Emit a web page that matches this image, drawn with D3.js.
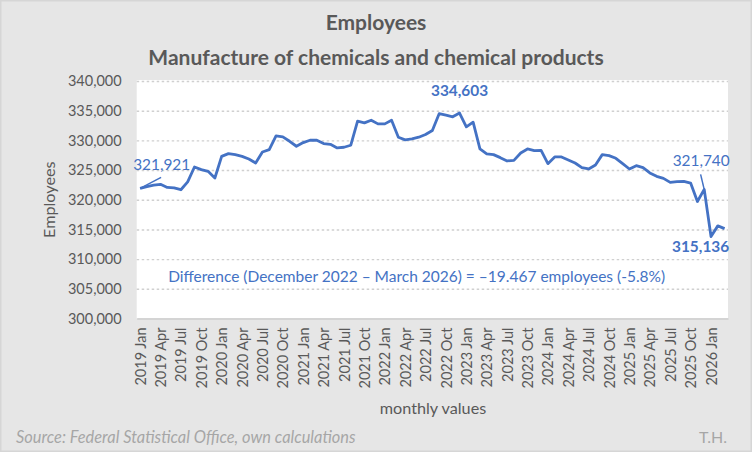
<!DOCTYPE html>
<html>
<head>
<meta charset="utf-8">
<script src="https://cdn.jsdelivr.net/npm/d3@7/dist/d3.min.js"></script>
<style>
  body { margin: 0; background: #fff; }
  text { font-family: Lato, "Noto Sans", sans-serif; }
</style>
</head>
<body>
<script>

// dati: occupati mensili, gennaio 2019 - marzo 2026
const years = [2019, 2020, 2021, 2022, 2023, 2024, 2025, 2026];
const monthNames = ['Jan','Feb','Mar','Apr','May','Jun','Jul','Aug','Sep','Oct','Nov','Dec'];
const employees = [
  321921, 322200, 322450, 322600, 322080, 322000, 321690, 323000, 325520, 325070, 324780, 323660,
  327310, 327770, 327600, 327310, 326870, 326200, 328050, 328450, 330750, 330600, 329850, 329010,
  329630, 330020, 330020, 329460, 329340, 328730, 328840, 329180, 333230, 332950, 333400, 332780,
  332780, 333400, 330530, 330080, 330250, 330530, 330980, 331660, 334500, 334240, 333970, 334603,
  332280, 333060, 328560, 327720, 327600, 327090, 326530, 326640, 327880, 328560, 328280, 328330,
  326080, 327210, 327210, 326700, 326190, 325400, 325180, 325860, 327600, 327430, 326980, 326080,
  325180, 325740, 325400, 324510, 323940, 323600, 322920, 323040, 323090, 322810, 319710, 321740,
  313800, 315600, 315136
];
const yTicks = [300000, 305000, 310000, 315000, 320000, 325000, 330000, 335000, 340000];

// etichette dei mesi, stesso numero dei valori
const months = [];
years.forEach(y => monthNames.forEach(m => months.push(y + ' ' + m)));
months.length = employees.length;

const W = 752, H = 452;
const margin = {top: 81, right: 24, bottom: 133.5, left: 136.7};
const Pwidth = W - margin.left - margin.right;
const Pheight = H - margin.top - margin.bottom;

const blue = '#4472C4';
const grey = '#595959';

const svg = d3.select('body')
    .append('svg')
    .attr('width', W)
    .attr('height', H);

// sfondo del grafico
svg.append('rect')
    .attr('x', 0.75).attr('y', 0.75)
    .attr('width', W - 1.5).attr('height', H - 1.5)
    .attr('fill', '#e6e6e6')
    .attr('stroke', '#d6d6d6')
    .attr('stroke-width', 1.5);

const g = svg.append('g')
    .attr('transform', 'translate(' + margin.left + ',' + margin.top + ')');

g.append('rect')
    .attr('y', -1)
    .attr('width', Pwidth)
    .attr('height', Pheight + 1)
    .attr('fill', 'white');

const x = d3.scalePoint()
    .domain(months)
    .range([0, Pwidth])
    .padding(0.5);

const y = d3.scaleLinear()
    .domain([300000, 340000])
    .range([Pheight, 0]);

// asse y con la griglia tratteggiata
const yAxis = g.append('g')
    .call(d3.axisLeft(y).tickValues(yTicks).tickSize(-Pwidth).tickPadding(15).tickFormat(d3.format(',')));
yAxis.select('.domain').remove();
yAxis.selectAll('line')
    .attr('stroke', '#d0d0d0')
    .attr('stroke-width', 1.4)
    .attr('stroke-dasharray', '2.5,2.5')
    .filter(d => d === 300000).remove();
yAxis.selectAll('text')
    .attr('fill', grey)
    .style('font-size', '14.5px');

// asse x: un'etichetta ogni tre mesi
const xAxis = g.append('g')
    .attr('transform', 'translate(0,' + Pheight + ')')
    .call(d3.axisBottom(x).tickValues(months.filter((d, i) => i % 3 === 0)).tickSize(0).tickSizeOuter(0));
xAxis.select('.domain')
    .attr('stroke', '#d4d4d4')
    .attr('stroke-width', 2.2);
xAxis.selectAll('text')
    .attr('fill', grey)
    .style('font-size', '14.5px')
    .attr('text-anchor', 'end')
    .attr('y', 0)
    .attr('x', -9)
    .attr('dy', '0.35em')
    .attr('transform', 'rotate(-90)');

// linea
const line = d3.line()
    .x((d, i) => x(months[i]))
    .y(d => y(d));

g.append('path')
    .datum(employees)
    .attr('fill', 'none')
    .attr('stroke', blue)
    .attr('stroke-width', 2.8)
    .attr('stroke-linejoin', 'round')
    .attr('d', line);

// etichette dei punti
const fmt = d3.format(',');
const iFirst = 0;
const iPeak = employees.indexOf(d3.max(employees));
const iLast = employees.length - 1;
const iDec25 = months.indexOf('2025 Dec');
const px = i => x(months[i]);
const py = i => y(employees[i]);

function etichetta(i, dx, dy, bold) {
  g.append('text')
      .attr('x', px(i) + dx)
      .attr('y', py(i) + dy)
      .attr('text-anchor', 'middle')
      .attr('fill', blue)
      .attr('font-weight', bold ? 'bold' : 'normal')
      .style('font-size', '15.4px')
      .text(fmt(employees[i]));
}

etichetta(iFirst, 21.6, -18, false);
etichetta(iPeak, 0, -17, true);
etichetta(iDec25, -3, -23, false);
etichetta(iLast, -24, 23, true);

g.append('line')
    .attr('x1', px(iFirst)).attr('y1', py(iFirst))
    .attr('x2', px(iFirst) + 21).attr('y2', py(iFirst) - 11)
    .attr('stroke', blue).attr('stroke-width', 1.5);

g.append('line')
    .attr('x1', px(iDec25) - 3.6).attr('y1', py(iDec25) - 15)
    .attr('x2', px(iDec25)).attr('y2', py(iDec25))
    .attr('stroke', blue).attr('stroke-width', 1.5);

g.append('text')
    .attr('x', 31.5)
    .attr('y', 201)
    .attr('fill', blue)
    .style('font-size', '15.5px')
    .text('Difference (December 2022 \u2013 March 2026) = \u201319.467 employees (-5.8%)');

// titoli
svg.append('text')
    .attr('x', 376).attr('y', 30)
    .attr('text-anchor', 'middle')
    .attr('fill', grey)
    .attr('font-weight', 'bold')
    .style('font-size', '21px')
    .text('Employees');

svg.append('text')
    .attr('x', 376).attr('y', 65)
    .attr('text-anchor', 'middle')
    .attr('fill', grey)
    .attr('font-weight', 'bold')
    .style('font-size', '21px')
    .text('Manufacture of chemicals and chemical products');

svg.append('text')
    .attr('transform', 'translate(55,' + (margin.top + Pheight / 2) + ') rotate(-90)')
    .attr('text-anchor', 'middle')
    .attr('fill', grey)
    .style('font-size', '16.2px')
    .text('Employees');

svg.append('text')
    .attr('x', 433).attr('y', 414)
    .attr('text-anchor', 'middle')
    .attr('fill', grey)
    .style('font-size', '16.2px')
    .text('monthly values');

svg.append('text')
    .attr('x', 16).attr('y', 443)
    .attr('fill', '#a6a6a6')
    .attr('font-style', 'italic')
    .style('font-size', '16.4px')
    .text('Source: Federal Statistical Office, own calculations');

svg.append('text')
    .attr('x', 727).attr('y', 443)
    .attr('text-anchor', 'end')
    .attr('fill', '#a6a6a6')
    .style('font-size', '16px')
    .text('T.H.');

</script>
</body>
</html>
